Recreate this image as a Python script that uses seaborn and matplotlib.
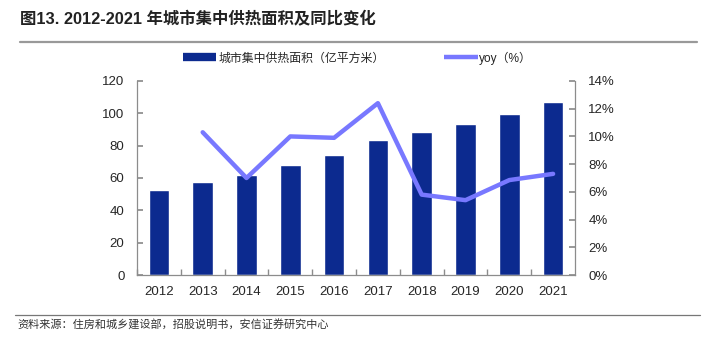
import numpy as np
import pandas as pd
import matplotlib
matplotlib.use("Agg")
import matplotlib.pyplot as plt
import seaborn as sns
from matplotlib.lines import Line2D
from matplotlib.ticker import FuncFormatter, MultipleLocator

years = ["2012", "2013", "2014", "2015", "2016", "2017", "2018", "2019", "2020", "2021"]
area = [52.5, 57.7, 61.6, 67.8, 74.4, 83.7, 88.4, 93.4, 99.8, 106.8]
yoy = [np.nan, 10.3, 7.0, 10.0, 9.9, 12.4, 5.8, 5.4, 6.85, 7.3]
bar_label = "城市集中供热面积（亿平方米）"
line_label = "yoy（%）"
title = "图13. 2012-2021 年城市集中供热面积及同比变化"
source = "资料来源：住房和城乡建设部，招股说明书，安信证券研究中心"

sns.set_theme(style="white")
plt.rcParams["font.family"] = ["Liberation Sans", "Noto Sans CJK SC", "DejaVu Sans"]

BAR = "#0C2A8F"
LINE = "#7878FF"
GREY = "#8C8C8C"

df = pd.DataFrame({"year": years, "area": area, "yoy": yoy, "pos": np.arange(len(years))})

fig = plt.figure(figsize=(7.12, 3.41), dpi=100)
ax = fig.add_axes([137/712, 1-275/341, (575-137)/712, (275-81)/341])

sns.barplot(data=df, x="year", y="area", color=BAR, width=0.47, saturation=1, ax=ax)
ax.set_xlim(-0.5, len(years) - 0.5)
ax.set_ylim(0, 120)
ax.yaxis.set_major_locator(MultipleLocator(20))
ax.set_xlabel("")
ax.set_ylabel("")

ax2 = ax.twinx()
sns.lineplot(data=df.dropna(), x="pos", y="yoy", color=LINE, linewidth=3.2, ax=ax2)
ax2.set_ylim(0, 14)
ax2.yaxis.set_major_locator(MultipleLocator(2))
ax2.yaxis.set_major_formatter(FuncFormatter(lambda v, p: f"{v:.0f}%"))
ax2.set_xlim(-0.5, len(years) - 0.5)
ax2.set_xlabel("")
ax2.set_ylabel("")

for a in (ax, ax2):
    for s in a.spines.values():
        s.set_color(GREY)
        s.set_linewidth(0.9)
    a.spines["top"].set_visible(False)
ax.spines["right"].set_visible(False)
ax2.spines["left"].set_visible(False)
ax2.spines["bottom"].set_visible(False)

ax.tick_params(axis="y", direction="in", length=4, color=GREY, labelsize=9.5, pad=9, left=True)
ax2.tick_params(axis="y", direction="in", length=4, color=GREY, labelsize=9.5, pad=9.5, right=True)
ax.set_xticks(np.arange(len(years)) - 0.5, minor=True)
ax.tick_params(axis="x", which="major", length=0, labelsize=9.5, pad=8)
ax.tick_params(axis="x", which="minor", direction="in", length=4, color=GREY, bottom=True)
ax2.tick_params(axis="x", which="both", length=0)

handles = [Line2D([0], [0], color=BAR, lw=6, solid_capstyle="butt"),
           Line2D([0], [0], color=LINE, lw=3.2, solid_capstyle="butt")]
fig.legend(handles, [bar_label, line_label], loc="center left", bbox_to_anchor=(183/712, 1-58/341),
           ncol=2, frameon=False, fontsize=8.6, handlelength=2.8, handletextpad=0.15,
           columnspacing=5.0, borderaxespad=0, borderpad=0)

fig.text(20/712, 1-19/341, title, fontsize=11.8, fontweight="bold", va="center", ha="left",
         color="#222222")
fig.add_artist(Line2D([20/712, 697/712], [1-41.5/341, 1-41.5/341], color="#999999", lw=1.6))
fig.add_artist(Line2D([15/712, 700/712], [1-315/341, 1-315/341], color="#777777", lw=0.9))
fig.text(17/712, 1-325/341, source, fontsize=8, va="center", ha="left", color="#333333",
         family=["Noto Sans CJK SC", "DejaVu Sans"], style="italic")

fig.savefig("out.png", dpi=100)
